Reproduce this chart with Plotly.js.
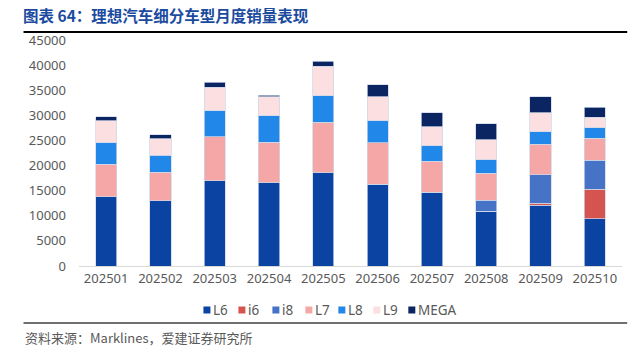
<!DOCTYPE html>
<html>
<head>
<meta charset="utf-8">
<script src="https://cdn.plot.ly/plotly-3.0.1.min.js"></script>
<style>html,body{margin:0;padding:0;background:#fff;}#chart{width:643px;height:356px;}</style>
</head>
<body>
<div id="chart"></div>
<script>
const months = ['202501','202502','202503','202504','202505','202506','202507','202508','202509','202510'];
const L6   = [13800, 13000, 17000, 16600, 18600, 16250, 14650, 10900, 12050, 9400];
const i6   = [0, 0, 0, 0, 0, 0, 0, 0, 470, 5900];
const i8   = [0, 0, 0, 0, 0, 0, 0, 2200, 5700, 5750];
const L7   = [6450, 5700, 8700, 8000, 10050, 8300, 6200, 5400, 6000, 4350];
const L8   = [4330, 3400, 5250, 5330, 5250, 4400, 3120, 2650, 2530, 2120];
const L9   = [4320, 3270, 4600, 3780, 5900, 4740, 3730, 4000, 3740, 2050];
const MEGA = [860, 800, 1000, 260, 950, 2390, 2790, 3150, 3200, 2000];

const seriesNames = ['L6','i6','i8','L7','L8','L9','MEGA'];
const seriesData = [L6, i6, i8, L7, L8, L9, MEGA];
const colors = ['#0B43A3','#D55450','#4673C6','#F4A7A6','#2188EA','#FBDFE1','#0A2561'];

const traces = seriesNames.map((n, k) => ({
  type: 'bar', name: n, x: months, y: seriesData[k],
  marker: {color: colors[k], line: {color: 'rgba(205,215,232,0.9)', width: 0.8}},
  showlegend: false, hoverinfo: 'x+y+name'
}));

// paper coordinate helpers (plot area: x 78.5..621.8 px, y 40..266 px)
const PX0 = 78.5, PW = 543.3, PY1 = 40, PH = 226;
const px = v => (v - PX0) / PW;
const py = v => (PY1 + PH - v) / PH;

// legend keys (positions in px)
const legendX = [203, 238, 272, 305, 338, 373, 408];
const legendY = 310;
const keyShapes = seriesNames.map((n, k) => ({
  type: 'rect', xref: 'paper', yref: 'paper',
  x0: px(legendX[k]), x1: px(legendX[k] + 7), y0: py(legendY + 3.5), y1: py(legendY - 3.5),
  fillcolor: colors[k], line: {width: 0}
}));
const keyLabels = seriesNames.map((n, k) => ({
  xref: 'paper', yref: 'paper', x: px(legendX[k] + 9), y: py(legendY), xanchor: 'left', yanchor: 'middle',
  text: n, showarrow: false, borderpad: 0,
  font: {family: 'Noto Sans, sans-serif', size: 13.5, color: '#595959'}
}));

const layout = {
  width: 643, height: 356,
  margin: {l: 78.5, r: 21.2, t: 40, b: 90, pad: 0},
  barmode: 'stack', bargap: 0.61,
  paper_bgcolor: '#fff', plot_bgcolor: '#fff',
  font: {family: 'Noto Sans, Noto Sans CJK SC, sans-serif', color: '#595959', size: 13},
  title: {
    text: '<b>图表 64：理想汽车细分车型月度销量表现</b>',
    xref: 'container', yref: 'container', x: 23 / 643, xanchor: 'left', y: 1 - 17 / 356, yanchor: 'middle',
    font: {family: 'Noto Sans CJK SC, sans-serif', size: 15.5, color: '#1B4B9F'}, pad: {l: 0, r: 0, t: 0, b: 0}
  },
  xaxis: {
    type: 'category', showgrid: false, showline: true, linecolor: '#D9D9D9', linewidth: 1,
    ticks: '', tickfont: {size: 13, color: '#595959'}, fixedrange: true
  },
  yaxis: {
    range: [0, 45000], dtick: 5000, showgrid: false, zeroline: false, showline: false,
    ticks: '', ticklabelstandoff: 12, tickfont: {size: 13, color: '#595959'}, tickformat: 'd', fixedrange: true
  },
  showlegend: false,
  shapes: [
    {type: 'line', xref: 'paper', yref: 'paper', x0: px(23), x1: px(627), y0: py(32), y1: py(32),
     line: {color: '#000', width: 2}},
    {type: 'line', xref: 'paper', yref: 'paper', x0: px(23), x1: px(627), y0: py(323), y1: py(323),
     line: {color: '#404040', width: 1.5}}
  ].concat(keyShapes),
  annotations: [
    {xref: 'paper', yref: 'paper', x: px(23), y: py(337), xanchor: 'left', yanchor: 'middle',
     text: '资料来源：Marklines，爱建证券研究所', showarrow: false, borderpad: 0,
     font: {family: 'Noto Sans CJK SC, sans-serif', size: 13, color: '#595959'}}
  ].concat(keyLabels)
};

Plotly.newPlot('chart', traces, layout, {displayModeBar: false, staticPlot: true});
</script>
</body>
</html>
